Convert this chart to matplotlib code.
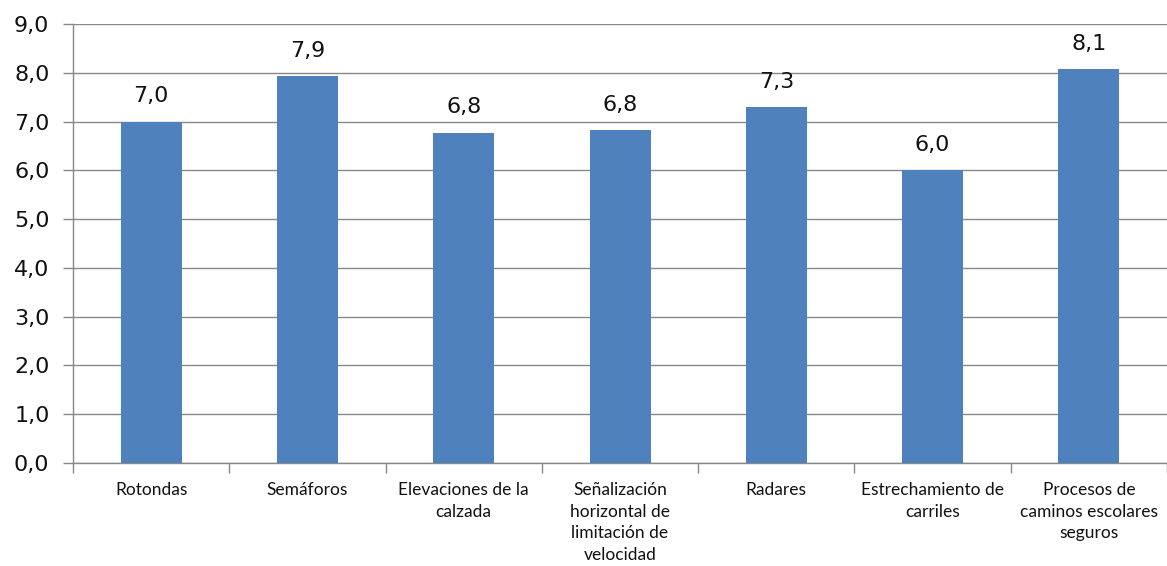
import numpy as np
import matplotlib.pyplot as plt
from matplotlib.ticker import FixedLocator, FuncFormatter

# valoración media por medida
categorias = ["Rotondas", "Semáforos", "Elevaciones de la\ncalzada",
              "Señalización\nhorizontal de\nlimitación de\nvelocidad",
              "Radares", "Estrechamiento de\ncarriles",
              "Procesos de\ncaminos escolares\nseguros"]
valores = [7.0, 7.93, 6.77, 6.82, 7.3, 6.0, 8.08]
yticks = [0, 1, 2, 3, 4, 5, 6, 7, 8, 9]

coma = lambda v: f"{v:.1f}".replace(".", ",")

fig = plt.figure(figsize=(11.67, 5.66), dpi=100)
ax = fig.add_axes([0.0626, 0.182, 0.9374, 0.7756])

x = np.arange(len(categorias))
ax.bar(x, valores, width=0.39, color="#4F81BD", zorder=3)

for xi, v in zip(x, valores):
    ax.annotate(coma(v), (xi, v), xytext=(0, 11), textcoords="offset points",
                ha="center", va="bottom", fontsize=16, color="#111111")

ax.set_xlim(-0.5, len(categorias) - 0.5)
ax.set_ylim(0, 9)
ax.set_yticks(yticks)
ax.yaxis.set_major_formatter(FuncFormatter(lambda v, p: coma(v)))
ax.tick_params(axis="y", length=7, width=1, color="#888888", pad=10,
               labelsize=16, labelcolor="#111111")
ax.grid(axis="y", color="#888888", linewidth=1, zorder=0)

# etiquetas centradas, marcas entre categorías
ax.set_xticks(x)
ax.set_xticklabels(categorias, fontsize=12.5, family="Lato", linespacing=1.42,
                   color="#111111")
ax.tick_params(axis="x", which="major", length=0, pad=14)
ax.xaxis.set_minor_locator(FixedLocator(np.arange(-0.5, len(categorias), 1)))
ax.tick_params(axis="x", which="minor", length=7, width=1, color="#888888")

for s in ["top", "right"]:
    ax.spines[s].set_visible(False)
for s in ["left", "bottom"]:
    ax.spines[s].set_color("#888888")
    ax.spines[s].set_linewidth(1)

fig.savefig("out.png", dpi=100)
